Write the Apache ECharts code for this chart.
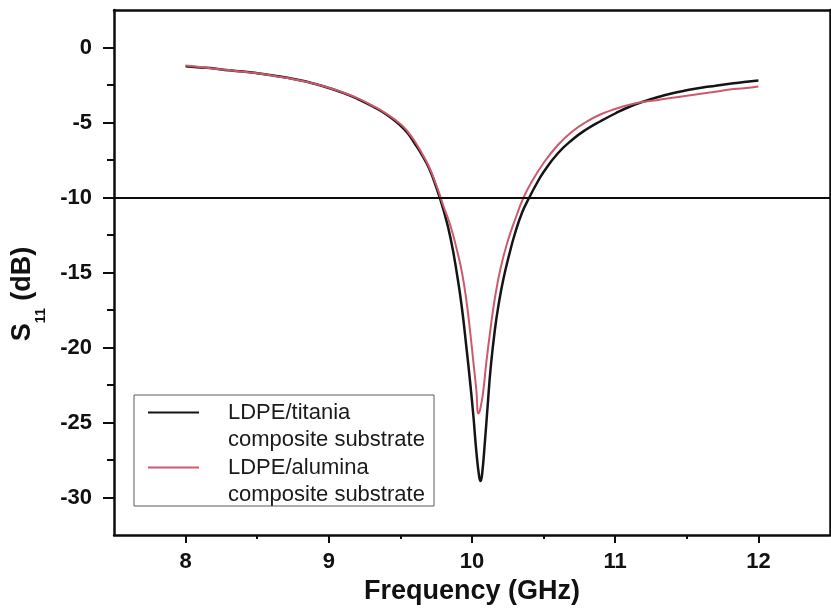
<!DOCTYPE html>
<html>
<head>
<meta charset="utf-8">
<script src="https://cdn.jsdelivr.net/npm/echarts@6/dist/echarts.min.js"></script>
<style>
  html, body { margin: 0; padding: 0; background: #ffffff; }
  #chart { width: 831px; height: 611px; }
</style>
</head>
<body>
<div id="chart"></div>
<script>
// Axis ticks
const xTicks = [8, 9, 10, 11, 12];
const xMinorTicks = [8.5, 9.5, 10.5, 11.5];
const yTicks = [0, -5, -10, -15, -20, -25, -30];
const yMinorTicks = [-2.5, -7.5, -12.5, -17.5, -22.5, -27.5];

// Series names
const seriesNames = ['LDPE/titania\ncomposite substrate', 'LDPE/alumina\ncomposite substrate'];

// LDPE/titania: frequency (GHz) and S11 (dB)
const titaniaFreq = [8.0, 8.1, 8.2, 8.3, 8.4, 8.5, 8.6, 8.7, 8.8, 8.9, 9.0, 9.1, 9.2, 9.3, 9.4, 9.5, 9.55, 9.6, 9.65, 9.7,
  9.75, 9.8, 9.85, 9.9, 9.93, 9.96, 9.99, 10.01, 10.03, 10.05, 10.06, 10.07, 10.09, 10.11, 10.13, 10.16, 10.19, 10.22,
  10.26, 10.3, 10.35, 10.4, 10.45, 10.5, 10.6, 10.7, 10.8, 10.9, 11.0, 11.1, 11.2, 11.3, 11.4, 11.5, 11.6, 11.7, 11.8,
  11.9, 12.0];
const titaniaS11 = [-1.25, -1.33, -1.40, -1.52, -1.60, -1.72, -1.85, -2.00, -2.18, -2.42, -2.70, -3.02, -3.42, -3.90, -4.45,
  -5.20, -5.70, -6.40, -7.15, -8.05, -9.30, -10.80, -12.70, -15.40, -17.40, -19.90, -22.60, -24.60, -26.90, -28.60, -28.90,
  -28.50, -26.30, -23.80, -21.40, -18.80, -16.90, -15.40, -13.80, -12.40, -11.00, -10.00, -9.10, -8.30, -7.05, -6.15,
  -5.45, -4.90, -4.40, -3.95, -3.60, -3.30, -3.05, -2.85, -2.68, -2.55, -2.42, -2.30, -2.20];

// LDPE/alumina: frequency (GHz) and S11 (dB)
const aluminaFreq = [8.0, 8.1, 8.2, 8.3, 8.4, 8.5, 8.6, 8.7, 8.8, 8.9, 9.0, 9.1, 9.2, 9.3, 9.4, 9.5, 9.55, 9.6, 9.65, 9.7,
  9.75, 9.8, 9.85, 9.9, 9.93, 9.96, 9.99, 10.01, 10.03, 10.045, 10.06, 10.08, 10.1, 10.13, 10.16, 10.2, 10.25, 10.3,
  10.36, 10.42, 10.5, 10.6, 10.7, 10.8, 10.9, 11.0, 11.1, 11.2, 11.3, 11.4, 11.5, 11.6, 11.7, 11.8, 11.9, 12.0];
const aluminaS11 = [-1.20, -1.30, -1.42, -1.50, -1.62, -1.72, -1.86, -2.02, -2.20, -2.42, -2.68, -3.00, -3.38, -3.85, -4.40,
  -5.10, -5.60, -6.25, -7.05, -7.95, -9.15, -10.55, -11.90, -13.70, -15.00, -16.80, -19.20, -21.00, -22.80, -24.40, -24.00,
  -22.80, -21.00, -18.70, -16.70, -14.70, -12.90, -11.50, -10.00, -8.90, -7.70, -6.50, -5.60, -4.95, -4.45, -4.10, -3.82,
  -3.62, -3.50, -3.35, -3.22, -3.08, -2.95, -2.80, -2.72, -2.60];

// -10 dB reference level
const thresholdDb = -10;

const pairs = (xs, ys) => xs.map((x, i) => [x, ys[i]]);

const FONT = '"Liberation Sans", Arial, sans-serif';
const AXIS_COLOR = '#0d0d0d';
const X_MIN = 7.5, X_MAX = 12.5, Y_MIN = -32.5, Y_MAX = 2.5;

const chart = echarts.init(document.getElementById('chart'), null, { renderer: 'canvas' });

const hiddenLabel = { show: false };
const noSplit = { show: false };

chart.setOption({
  animation: false,
  backgroundColor: '#ffffff',
  grid: { left: 114, right: 1, top: 10, bottom: 76, containLabel: false },
  xAxis: [
    {
      type: 'value', min: X_MIN, max: X_MAX, position: 'bottom',
      name: 'Frequency (GHz)', nameLocation: 'middle', nameGap: 42,
      nameTextStyle: { fontFamily: FONT, fontSize: 27, fontWeight: 'bold', color: '#111' },
      axisLine: { onZero: false, lineStyle: { color: AXIS_COLOR, width: 2.5 } },
      axisTick: { show: true, inside: false, length: 8, customValues: xTicks, lineStyle: { color: AXIS_COLOR, width: 2 } },
      axisLabel: { customValues: xTicks, fontFamily: FONT, fontSize: 22, fontWeight: 'bold', color: '#111', margin: 16 },
      splitLine: noSplit
    },
    {
      type: 'value', min: X_MIN, max: X_MAX, position: 'bottom',
      axisLine: { show: false, onZero: false },
      axisTick: { show: true, inside: false, length: 4, customValues: xMinorTicks, lineStyle: { color: AXIS_COLOR, width: 2 } },
      axisLabel: hiddenLabel, splitLine: noSplit
    },
    {
      type: 'value', min: X_MIN, max: X_MAX, position: 'top',
      axisLine: { show: true, onZero: false, lineStyle: { color: AXIS_COLOR, width: 2.5 } },
      axisTick: { show: false }, axisLabel: hiddenLabel, splitLine: noSplit
    }
  ],
  yAxis: [
    {
      type: 'value', min: Y_MIN, max: Y_MAX, position: 'left',
      axisLine: { show: true, onZero: false, lineStyle: { color: AXIS_COLOR, width: 2.5 } },
      axisTick: { show: true, inside: false, length: 11, customValues: yTicks, lineStyle: { color: AXIS_COLOR, width: 2 } },
      axisLabel: { customValues: yTicks, fontFamily: FONT, fontSize: 22, fontWeight: 'bold', color: '#111', margin: 22 },
      splitLine: noSplit
    },
    {
      type: 'value', min: Y_MIN, max: Y_MAX, position: 'left',
      axisLine: { show: false, onZero: false },
      axisTick: { show: true, inside: false, length: 7, customValues: yMinorTicks, lineStyle: { color: AXIS_COLOR, width: 2 } },
      axisLabel: hiddenLabel, splitLine: noSplit
    },
    {
      type: 'value', min: Y_MIN, max: Y_MAX, position: 'right',
      axisLine: { show: true, onZero: false, lineStyle: { color: AXIS_COLOR, width: 2.5 } },
      axisTick: { show: false }, axisLabel: hiddenLabel, splitLine: noSplit
    }
  ],
  legend: {
    orient: 'vertical', left: 147, top: 372, padding: 0,
    itemWidth: 51, itemHeight: 14, itemGap: -26,
    selectedMode: false,
    data: seriesNames,
    itemStyle: { opacity: 0 },
    // a leading blank line keeps the first text line level with the legend line
    formatter: (name) => '\n' + name,
    textStyle: { fontFamily: FONT, fontSize: 22, lineHeight: 27, color: '#1a1a1a', padding: [0, 0, 0, 24] }
  },
  graphic: [
    {
      type: 'rect', z: 5, silent: true,
      shape: { x: 134, y: 395, width: 300, height: 111 },
      style: { fill: null, stroke: '#5a5a5a', lineWidth: 1 }
    },
    {
      type: 'text', z: 10, silent: true,
      x: 23, y: 294, rotation: Math.PI / 2,
      style: {
        text: '{s|S}{sub|11}{s| (dB)}',
        align: 'center', verticalAlign: 'middle',
        rich: {
          s: { fontFamily: FONT, fontSize: 27, fontWeight: 'bold', fill: '#111', lineHeight: 50 },
          sub: { fontFamily: FONT, fontSize: 14, fontWeight: 'bold', fill: '#111', lineHeight: 14, verticalAlign: 'bottom' }
        }
      }
    }
  ],
  series: [
    {
      name: seriesNames[0], type: 'line', xAxisIndex: 0, yAxisIndex: 0,
      data: pairs(titaniaFreq, titaniaS11),
      showSymbol: false, symbol: 'none', smooth: 0.5,
      lineStyle: { color: '#141414', width: 2.5 }, itemStyle: { color: '#141414' },
      z: 3,
      markLine: {
        silent: true, symbol: 'none', animation: false,
        label: { show: false },
        lineStyle: { color: '#0d0d0d', width: 2, type: 'solid' },
        data: [{ yAxis: thresholdDb }]
      }
    },
    {
      name: seriesNames[1], type: 'line', xAxisIndex: 0, yAxisIndex: 0,
      data: pairs(aluminaFreq, aluminaS11),
      showSymbol: false, symbol: 'none', smooth: 0.5,
      lineStyle: { color: '#cc5a6c', width: 2 }, itemStyle: { color: '#cc5a6c' },
      z: 4
    }
  ]
});
</script>
</body>
</html>
